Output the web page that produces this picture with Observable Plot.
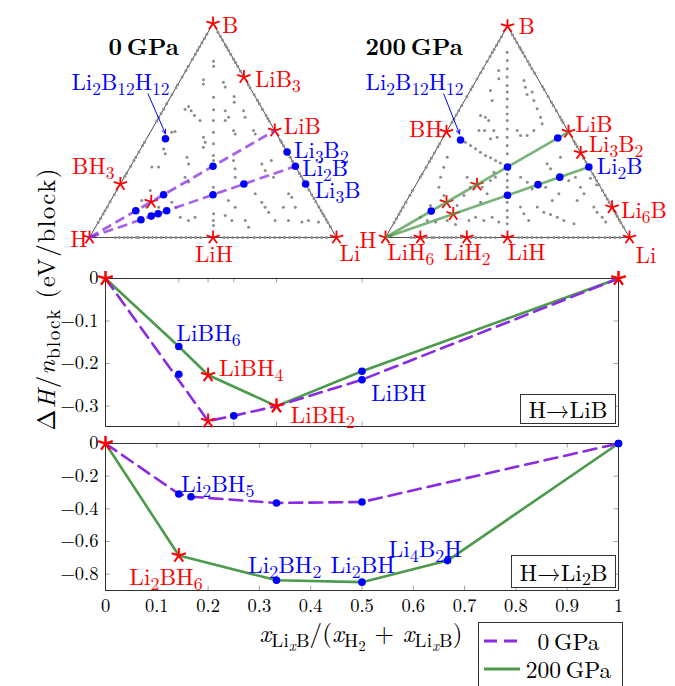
<!DOCTYPE html>
<html>
<head>
<meta charset="utf-8">
<script src="https://cdn.jsdelivr.net/npm/d3@7"></script>
<script src="https://cdn.jsdelivr.net/npm/@observablehq/plot@0.6"></script>
<style>
  html, body { margin: 0; padding: 0; background: #fff; }
  #root { position: relative; width: 675px; height: 686px; overflow: hidden; font-family: "Latin Modern Roman", "Liberation Serif", serif; }
  #root > svg { position: absolute; left: 0; overflow: visible; }
  .box { position: absolute; box-sizing: border-box; border: 1px solid #333; background: #fff; font-size: 23.5px; text-align: center; color: #000; }
  .box sub { font-size: 76%; vertical-align: -0.22em; line-height: 0; }
  .legend { position: absolute; box-sizing: border-box; border: 1px solid #333; background: #fff; }
  .legend .row { position: absolute; left: 0; width: 100%; height: 28px; font-size: 23.5px; line-height: 28px; }
  .legend .row svg { position: absolute; left: 5px; top: 0; }
  .legend .row span { position: absolute; left: 42px; width: 95px; text-align: center; }
</style>
</head>
<body>
<div id="root"></div>
<script>
// ================= DATA =================
// Ternary compositions: atomic fractions of Li and B (H = 1 - Li - B)
const triangle = [{Li: 0, B: 0}, {Li: 1, B: 0}, {Li: 0, B: 1}, {Li: 0, B: 0}];

// binary compositions sampled along the edges
const edgeHLi = [0.105, 0.12, 0.14, 0.155, 0.17, 0.19, 0.2, 0.22, 0.24, 0.255, 0.27, 0.29, 0.31, 0.33, 0.35, 0.37, 0.39, 0.41, 0.43, 0.45, 0.545, 0.56, 0.58, 0.6, 0.62, 0.64, 0.667, 0.69, 0.71, 0.73, 0.75, 0.77, 0.79, 0.81, 0.83, 0.85, 0.875, 0.9, 0.92, 0.94, 0.96];
const edgeHB = [0.07, 0.09, 0.11, 0.125, 0.143, 0.167, 0.2, 0.222, 0.286, 0.3, 0.333, 0.36, 0.375, 0.4, 0.43, 0.444, 0.545, 0.56, 0.58, 0.6, 0.625, 0.667, 0.7, 0.714, 0.75, 0.78, 0.8, 0.833, 0.857, 0.875, 0.89, 0.91, 0.93, 0.95];
const edgeBLi = [0.04, 0.06, 0.077, 0.1, 0.111, 0.125, 0.143, 0.167, 0.182, 0.2, 0.222, 0.286, 0.3, 0.333, 0.36, 0.375, 0.4, 0.43, 0.444, 0.455, 0.545, 0.556, 0.571, 0.625, 0.643, 0.7, 0.714, 0.73, 0.75, 0.778, 0.8, 0.818, 0.833, 0.857, 0.875, 0.889, 0.9, 0.917, 0.93, 0.95];

// interior sampled compositions [Li, B], 0 GPa
const gray0 = [[0.090,0.824],[0.102,0.801],[0.093,0.737],[0.102,0.718],[0.174,0.656],[0.204,0.597],[0.228,0.547],[0.256,0.492],[0.283,0.438],[0.310,0.383],[0.322,0.360],[0.384,0.235],[0.447,0.111],[0.462,0.079],[0.474,0.056],[0.179,0.726],[0.198,0.703],[0.256,0.659],[0.270,0.632],[0.095,0.612],[0.087,0.600],[0.115,0.593],[0.140,0.570],[0.174,0.547],[0.099,0.495],[0.087,0.492],[0.227,0.469],[0.246,0.445],[0.250,0.422],[0.253,0.593],[0.282,0.562],[0.327,0.593],[0.349,0.562],[0.414,0.500],[0.429,0.484],[0.333,0.500],[0.348,0.484],[0.276,0.547],[0.088,0.329],[0.115,0.329],[0.111,0.391],[0.093,0.414],[0.207,0.375],[0.229,0.344],[0.246,0.282],[0.272,0.259],[0.403,0.360],[0.429,0.321],[0.449,0.282],[0.526,0.344],[0.555,0.313],[0.556,0.360],[0.604,0.282],[0.704,0.204],[0.725,0.188],[0.615,0.165],[0.640,0.142],[0.666,0.118],[0.714,0.142],[0.766,0.079],[0.847,0.079],[0.891,0.072],[0.251,0.165],[0.279,0.142],[0.320,0.095],[0.361,0.079],[0.380,0.095],[0.476,0.173],[0.519,0.142],[0.591,0.079],[0.620,0.048],[0.125,0.173],[0.161,0.142],[0.136,0.220],[0.209,0.142],[0.537,0.079],[0.498,0.103],[0.712,0.079],[0.824,0.072],[0.569,0.204],[0.762,0.142]];

// interior sampled compositions [Li, B], 200 GPa
const gray200 = [[0.060,0.877],[0.080,0.838],[0.100,0.798],[0.119,0.759],[0.139,0.719],[0.155,0.688],[0.171,0.656],[0.190,0.617],[0.206,0.585],[0.222,0.554],[0.242,0.514],[0.261,0.475],[0.281,0.435],[0.301,0.396],[0.348,0.301],[0.364,0.270],[0.380,0.238],[0.415,0.167],[0.435,0.128],[0.451,0.096],[0.466,0.065],[0.069,0.790],[0.089,0.751],[0.196,0.743],[0.218,0.711],[0.242,0.677],[0.257,0.688],[0.284,0.648],[0.317,0.609],[0.351,0.569],[0.373,0.538],[0.082,0.696],[0.113,0.648],[0.101,0.577],[0.125,0.569],[0.146,0.554],[0.130,0.506],[0.153,0.506],[0.191,0.506],[0.220,0.475],[0.197,0.467],[0.287,0.506],[0.312,0.483],[0.339,0.483],[0.355,0.506],[0.102,0.451],[0.131,0.435],[0.159,0.420],[0.187,0.404],[0.216,0.388],[0.242,0.377],[0.269,0.364],[0.295,0.352],[0.290,0.309],[0.308,0.285],[0.295,0.270],[0.063,0.380],[0.072,0.333],[0.083,0.285],[0.100,0.238],[0.140,0.199],[0.192,0.285],[0.229,0.238],[0.222,0.199],[0.277,0.238],[0.313,0.207],[0.306,0.167],[0.411,0.285],[0.450,0.262],[0.486,0.230],[0.488,0.349],[0.514,0.325],[0.527,0.380],[0.616,0.270],[0.636,0.285],[0.680,0.238],[0.710,0.207],[0.698,0.175],[0.550,0.144],[0.589,0.120],[0.622,0.109],[0.656,0.096],[0.691,0.080],[0.740,0.065],[0.481,0.144],[0.511,0.112],[0.547,0.080],[0.782,0.144],[0.807,0.120],[0.840,0.096],[0.866,0.073],[0.095,0.096],[0.131,0.080],[0.169,0.073],[0.213,0.080],[0.256,0.062],[0.302,0.080],[0.321,0.096],[0.363,0.080],[0.389,0.096],[0.428,0.073],[0.537,0.238],[0.596,0.175],[0.607,0.207],[0.700,0.280],[0.740,0.250],[0.218,0.151],[0.109,0.151]];

// stable (red star) and highlighted (blue) phases, 0 GPa
const stable0 = [
  {name: "H", Li: 0, B: 0}, {name: "Li", Li: 1, B: 0}, {name: "B", Li: 0, B: 1},
  {name: "LiH", Li: 0.5, B: 0}, {name: "BH3", Li: 0, B: 0.25}, {name: "LiB3", Li: 0.25, B: 0.75},
  {name: "LiB", Li: 0.5, B: 0.5}, {name: "LiBH4", Li: 0.1667, B: 0.1667}
];
const blue0 = [
  {name: "Li2B12H12", Li: 0.0769, B: 0.4615}, {name: "Li3B2", Li: 0.6, B: 0.4},
  {name: "Li2B", Li: 0.6667, B: 0.3333}, {name: "Li3B", Li: 0.75, B: 0.25},
  {name: "LiBH6", Li: 0.125, B: 0.125}, {name: "LiBH3", Li: 0.2, B: 0.2}, {name: "LiBH", Li: 0.3333, B: 0.3333},
  {name: "Li2BH9", Li: 0.1667, B: 0.0833}, {name: "Li2BH7", Li: 0.2, B: 0.1}, {name: "Li2BH6", Li: 0.2222, B: 0.1111},
  {name: "Li2BH5", Li: 0.25, B: 0.125}, {name: "Li2BH2", Li: 0.4, B: 0.2}, {name: "Li2BH", Li: 0.5, B: 0.25}
];
// 200 GPa
const stable200 = [
  {name: "H", Li: 0, B: 0}, {name: "Li", Li: 1, B: 0}, {name: "B", Li: 0, B: 1},
  {name: "BH", Li: 0, B: 0.5}, {name: "LiB", Li: 0.5, B: 0.5}, {name: "Li3B2", Li: 0.6, B: 0.4},
  {name: "Li6B", Li: 0.8571, B: 0.1429}, {name: "LiH6", Li: 0.1429, B: 0}, {name: "LiH2", Li: 0.3333, B: 0},
  {name: "LiH", Li: 0.5, B: 0}, {name: "LiBH4", Li: 0.1667, B: 0.1667}, {name: "LiBH2", Li: 0.25, B: 0.25},
  {name: "Li2BH6", Li: 0.2222, B: 0.1111}
];
const blue200 = [
  {name: "Li2B12H12", Li: 0.0769, B: 0.4615}, {name: "LiBH6", Li: 0.125, B: 0.125},
  {name: "LiBH", Li: 0.3333, B: 0.3333}, {name: "Li8B8H", Li: 0.4706, B: 0.4706},
  {name: "Li2BH2", Li: 0.4, B: 0.2}, {name: "Li2BH", Li: 0.5, B: 0.25},
  {name: "Li4B2H", Li: 0.5714, B: 0.2857}, {name: "Li2B", Li: 0.6667, B: 0.3333}
];
const tieTargets = ["LiB", "Li2B"];   // sections drawn from H

const ternLabels0 = [
  {name: "B", text: "B"}, {name: "LiB3", text: "LiB_3"}, {name: "LiB", text: "LiB"},
  {name: "LiH", text: "LiH"}, {name: "Li", text: "Li"}, {name: "H", text: "H"}, {name: "BH3", text: "BH_3"},
  {name: "Li3B2", text: "Li_3B_2"}, {name: "Li2B", text: "Li_2B"}, {name: "Li3B", text: "Li_3B"},
  {name: "Li2B12H12", text: "Li_2B_{12}H_{12}"}
];
const ternLabels200 = [
  {name: "B", text: "B"}, {name: "BH", text: "BH"}, {name: "LiB", text: "LiB"}, {name: "Li3B2", text: "Li_3B_2"},
  {name: "Li2B", text: "Li_2B"}, {name: "Li6B", text: "Li_6B"}, {name: "H", text: "H"}, {name: "LiH6", text: "LiH_6"},
  {name: "LiH2", text: "LiH_2"}, {name: "LiH", text: "LiH"}, {name: "Li", text: "Li"},
  {name: "Li2B12H12", text: "Li_2B_{12}H_{12}"}
];

// H -> LiB section (x = fraction of LiB blocks), formation enthalpy eV/block
const midNames   = ["H", "LiBH6", "LiBH4", "LiBH3", "LiBH2", "LiBH", "LiB"];
const midX       = [0, 0.1429, 0.2, 0.25, 0.3333, 0.5, 1];
const midDH0     = [0, -0.225, -0.335, -0.323, -0.300, -0.238, 0];
const midDH200   = [0, -0.160, -0.227, null, -0.300, -0.218, 0];
const midPath0   = ["H", "LiBH4", "LiBH3", "LiBH2", "LiBH", "LiB"];
const midPath200 = ["H", "LiBH6", "LiBH4", "LiBH2", "LiBH", "LiB"];
const midStable0   = ["H", "LiBH4", "LiBH2", "LiB"];
const midStable200 = ["H", "LiBH4", "LiBH2", "LiB"];
const midYTicks = [0, -0.1, -0.2, -0.3];
const midXMarks = [0.1429, 0.2, 0.25, 0.3333, 0.5];
const midLabels = [
  {set: "200", name: "LiBH6", text: "LiBH_6"}, {set: "200", name: "LiBH4", text: "LiBH_4"},
  {set: "200", name: "LiBH2", text: "LiBH_2"}, {set: "0", name: "LiBH", text: "LiBH"}
];

// H -> Li2B section
const botNames   = ["H", "Li2BH6", "Li2BH5", "Li2BH2", "Li2BH", "Li4B2H", "Li2B"];
const botX       = [0, 0.1429, 0.1667, 0.3333, 0.5, 0.6667, 1];
const botDH0     = [0, -0.309, -0.326, -0.364, -0.358, null, 0];
const botDH200   = [0, -0.686, null, -0.837, -0.849, -0.717, 0];
const botPath0   = ["H", "Li2BH6", "Li2BH5", "Li2BH2", "Li2BH", "Li2B"];
const botPath200 = ["H", "Li2BH6", "Li2BH2", "Li2BH", "Li4B2H", "Li2B"];
const botStable0   = ["H"];
const botStable200 = ["H", "Li2BH6"];
const botYTicks = [0, -0.2, -0.4, -0.6, -0.8];
const xTicks = [0, 0.1, 0.2, 0.3, 0.4, 0.5, 0.6, 0.7, 0.8, 0.9, 1];
const botLabels = [
  {set: "0", name: "Li2BH5", text: "Li_2BH_5"}, {set: "200", name: "Li2BH6", text: "Li_2BH_6"},
  {set: "200", name: "Li2BH2", text: "Li_2BH_2"}, {set: "200", name: "Li2BH", text: "Li_2BH"},
  {set: "200", name: "Li4B2H", text: "Li_4B_2H"}
];

const xTitle = "$x$_{Li_{$x$}B}/($x$_{H_2} + $x$_{Li_{$x$}B})";
const yTitle = "Δ$H$/$n$_{block} (eV/block)";
const titles = ["0\u2009GPa", "200\u2009GPa"];

// ================= STYLE / LAYOUT =================
const W = 675;
const RED = "#ff0000", BLUE = "#0000ff", PURPLE = "#8a2be2", GREEN = "#4c9a4c", GRAY = "#8c8c8c";
const FONT = "'Latin Modern Roman', 'Liberation Serif', serif";
const SUB = 0.76;     // subscript size ratio
const fmt = d3.format("~g");
const SQ3 = Math.sqrt(3) / 2;
const tx = d => d.Li + d.B / 2;
const ty = d => d.B * SQ3;

const place0 = {
  B: [9, 2, "start"], LiB3: [11, 3, "start"], LiB: [9, -4, "start"], LiH: [1, 17, "middle"],
  Li: [3, 16, "start"], H: [-2, 2, "end"], BH3: [-6, -17, "end"],
  Li3B2: [7, -1, "start"], Li2B: [7, 2, "start"], Li3B: [9, 7, "start"], Li2B12H12: [-94, -56, "start"]
};
const place200 = {
  B: [11, 0, "start"], BH: [-4, -2, "end"], LiB: [7, -7, "start"], Li3B2: [8, -8, "start"],
  Li2B: [8, 0, "start"], Li6B: [9, 3, "start"], H: [-9, 3, "end"], LiH6: [-33, 15, "start"],
  LiH2: [-23, 15, "start"], LiH: [0, 15, "start"], Li: [6, 18, "start"], Li2B12H12: [-95, -57, "start"]
};
const midPlace = {LiBH6: [-2.5, -13], LiBH4: [11, -6.5], LiBH2: [14, 9], LiBH: [9, 13.5]};
const botPlace = {Li2BH5: [-10, -12], Li2BH6: [-49.5, 22], Li2BH2: [-28.5, -14.7], Li2BH: [-31.5, -16.6], Li4B2H: [-59, -11.6]};

// 5-armed asterisk (pgfplots "star")
const star5 = {
  draw(context, size) {
    const r = Math.sqrt(size / Math.PI);
    for (let k = 0; k < 5; k++) {
      const a = -Math.PI / 2 + k * 2 * Math.PI / 5;
      context.moveTo(0, 0);
      context.lineTo(r * Math.cos(a), r * Math.sin(a));
    }
  }
};

// rich text: _x or _{..} subscripts, $..$ italic
function parseRich(s) {
  let i = 0;
  function group() {
    const out = []; let buf = "", it = false;
    const flush = () => { if (buf) out.push({t: buf, it}); buf = ""; };
    while (i < s.length) {
      const c = s[i];
      if (c === "}") { i++; break; }
      if (c === "$") { flush(); it = !it; i++; continue; }
      if (c === "_") {
        flush(); i++;
        if (s[i] === "{") { i++; out.push({sub: group()}); }
        else { out.push({sub: [{t: s[i], it}]}); i++; }
        continue;
      }
      buf += c; i++;
    }
    flush();
    return out;
  }
  return group();
}
function richify(svg, lengths = {}) {
  const NS = "http://www.w3.org/2000/svg";
  svg.querySelectorAll("text").forEach(t => {
    const s = t.textContent;
    if (!/[_$]/.test(s)) return;
    const fs = parseFloat(getComputedStyle(t).fontSize) || 24;
    const nodes = parseRich(s);
    while (t.firstChild) t.removeChild(t.firstChild);
    let cur = 0;
    (function emit(list, size, off) {
      for (const n of list) {
        if (n.sub) { emit(n.sub, size * SUB, off + size * 0.22); continue; }
        const ts = document.createElementNS(NS, "tspan");
        ts.setAttribute("font-size", size.toFixed(2));
        if (n.it) ts.setAttribute("font-style", "italic");
        if (Math.abs(off - cur) > 1e-6) { ts.setAttribute("dy", (off - cur).toFixed(2)); cur = off; }
        ts.textContent = n.t;
        t.appendChild(ts);
      }
    })(nodes, fs, 0);
    if (lengths[s]) { t.setAttribute("textLength", lengths[s]); t.setAttribute("lengthAdjust", "spacing"); }
  });
}

const root = document.getElementById("root");
function mount(svg, top, lengths) {
  svg.style.top = top + "px";
  root.appendChild(svg);
  richify(svg, lengths);
}

// ================= TERNARY DIAGRAMS =================
function ternaryPlot(t) {
  const all = t.stable.concat(t.blue);
  const find = n => all.find(d => d.name === n);
  const isStable = n => t.stable.some(d => d.name === n);
  const edgeDots = [
    ...edgeHLi.map(v => ({Li: v, B: 0})),
    ...edgeHB.map(v => ({Li: 0, B: v})),
    ...edgeBLi.map(v => ({Li: v, B: 1 - v}))
  ];
  const grayDots = t.gray.map(([Li, B]) => ({Li, B}));
  const origin = find("H");
  const s = t.side;
  const a = t.arrow; // pixel offsets from the point: [startRight, startDown, endRight, endDown]
  const marks = [
    Plot.line(triangle, {x: tx, y: ty, stroke: "#000", strokeWidth: 0.7}),
    Plot.dot(edgeDots.concat(grayDots), {x: tx, y: ty, r: 1.5, fill: GRAY}),
    Plot.dot(t.stable, {x: tx, y: ty, r: 7, symbol: star5, fill: "none", stroke: RED, strokeWidth: 1.8}),
    Plot.link(tieTargets.map(find), {
      x1: () => tx(origin), y1: () => ty(origin), x2: tx, y2: ty,
      stroke: t.color, strokeWidth: 2.6, strokeOpacity: 0.75, strokeDasharray: t.dash
    }),
    Plot.dot(t.blue, {x: tx, y: ty, r: 3.8, fill: BLUE}),
    Plot.arrow([find("Li2B12H12")], {
      x1: d => tx(d) + a[0] / s, y1: d => ty(d) - a[1] / s,
      x2: d => tx(d) + a[2] / s, y2: d => ty(d) - a[3] / s,
      stroke: BLUE, strokeWidth: 1, headLength: 7, headAngle: 50
    }),
    ...t.labels.map(l => {
      const [dx, dy, anchor] = t.place[l.name];
      return Plot.text([find(l.name)], {
        x: tx, y: ty, text: () => l.text, dx, dy, textAnchor: anchor,
        fill: isStable(l.name) ? RED : BLUE, fontSize: 23
      });
    }),
    Plot.text([t.title], {frameAnchor: "top-left", dx: t.titlePos[0], dy: t.titlePos[1],
      textAnchor: "start", fontWeight: "bold", fontSize: 23.5, fill: "#000"})
  ];
  return Plot.plot({
    width: W, height: 265,
    marginLeft: t.left, marginRight: W - t.left - s,
    marginTop: 237 - s * SQ3, marginBottom: 28,
    x: {domain: [0, 1], axis: null},
    y: {domain: [0, SQ3], axis: null},
    style: {fontFamily: FONT, background: "transparent", overflow: "visible"},
    marks
  });
}

mount(ternaryPlot({
  side: 247, left: 89, gray: gray0, stable: stable0, blue: blue0, color: PURPLE, dash: "10,5",
  labels: ternLabels0, place: place0, title: titles[0], titlePos: [19, 15], arrow: [-17.5, -45, 0, -5]
}), 0);
mount(ternaryPlot({
  side: 244, left: 385, gray: gray200, stable: stable200, blue: blue200, color: GREEN, dash: undefined,
  labels: ternLabels200, place: place200, title: titles[1], titlePos: [-20, 12.3], arrow: [-16.8, -46, -1, -6]
}), 0);

// ================= ENTHALPY PANELS =================
const ML = 105, MR = W - 618;
function series(names, xs, ys) {
  return names.map((name, i) => ({name, x: xs[i], dH: ys[i]})).filter(d => d.dH != null);
}
function panelPlot(p) {
  const ih = p.height - p.mt - p.mb, iw = W - ML - MR;
  const d0 = series(p.names, p.xs, p.dh0), d200 = series(p.names, p.xs, p.dh200);
  const pick = (data, names) => names.map(n => data.find(d => d.name === n));
  const blue = [...d0.filter(d => !p.stable0.includes(d.name)), ...d200.filter(d => !p.stable200.includes(d.name))];
  const stars = [...pick(d0, p.stable0), ...pick(d200, p.stable200)];
  const sets = {"0": d0, "200": d200};
  const stableSets = {"0": p.stable0, "200": p.stable200};
  const tickStyle = {stroke: "#8a8a8a", strokeWidth: 0.8};
  const marks = [
    Plot.ruleX(p.xMarks, {x: d => d, insetTop: ih - 4.5, ...tickStyle}),
    Plot.ruleX(p.xMarks, {x: d => d, insetBottom: ih - 4.5, ...tickStyle}),
    Plot.ruleY(p.yTicks.filter(v => v !== 0), {y: d => d, insetLeft: iw - 4.5, ...tickStyle}),
    Plot.ruleY(p.yTicks.filter(v => v !== 0), {y: d => d, insetRight: iw - 4.5, ...tickStyle}),
    Plot.frame({stroke: "#000", strokeWidth: 0.8}),
    Plot.axisY(p.yTicks, {anchor: "left", tickSize: 0, tickPadding: 7, tickFormat: fmt, label: null, fontSize: 18.5}),
    Plot.line(pick(d200, p.path200), {x: "x", y: "dH", stroke: GREEN, strokeWidth: 2.6}),
    Plot.line(pick(d0, p.path0), {x: "x", y: "dH", stroke: PURPLE, strokeWidth: 2.6, strokeDasharray: "13,7"}),
    Plot.dot(blue, {x: "x", y: "dH", r: 3.8, fill: BLUE}),
    Plot.dot(stars, {x: "x", y: "dH", r: 7.5, symbol: star5, fill: "none", stroke: RED, strokeWidth: 2}),
    ...p.labels.map(l => {
      const [dx, dy] = p.place[l.name];
      return Plot.text([sets[l.set].find(d => d.name === l.name)], {
        x: "x", y: "dH", text: () => l.text, dx, dy, textAnchor: "start", fontSize: 23.5,
        fill: stableSets[l.set].includes(l.name) ? RED : BLUE
      });
    }),
    ...(p.extra || [])
  ];
  return Plot.plot({
    width: W, height: p.height, marginLeft: ML, marginRight: MR, marginTop: p.mt, marginBottom: p.mb,
    x: {domain: [0, 1], axis: null},
    y: {domain: p.domain},
    style: {fontFamily: FONT, fontSize: "18.5px", background: "transparent", overflow: "visible", color: "#000"},
    marks
  });
}

mount(panelPlot({
  height: 190, mt: 28, mb: 14, domain: [-0.348, 0],
  names: midNames, xs: midX, dh0: midDH0, dh200: midDH200,
  path0: midPath0, path200: midPath200, stable0: midStable0, stable200: midStable200,
  yTicks: midYTicks, xMarks: midXMarks, labels: midLabels, place: midPlace
}), 250);

const lengths = {};
lengths[yTitle] = 262;
lengths[xTitle] = 203;
mount(panelPlot({
  height: 426, mt: 183, mb: 96, domain: [-0.9, 0],
  names: botNames, xs: botX, dh0: botDH0, dh200: botDH200,
  path0: botPath0, path200: botPath200, stable0: botStable0, stable200: botStable200,
  yTicks: botYTicks, xMarks: xTicks.slice(1, -1), labels: botLabels, place: botPlace,
  extra: [
    Plot.axisX(xTicks, {anchor: "bottom", tickSize: 0, tickPadding: 8, tickFormat: fmt, label: null, fontSize: 18.5}),
    Plot.text([xTitle], {frameAnchor: "bottom", dx: -1, dy: 51, fontSize: 25, fill: "#000"}),
    Plot.text([yTitle], {frameAnchor: "left", dx: -59, dy: -86.5, rotate: -90, fontSize: 25, fill: "#000"})
  ]
}), 260, lengths);

// ================= BOXES & LEGEND =================
function addBox(html, left, top, w, h) {
  const div = document.createElement("div");
  div.className = "box";
  Object.assign(div.style, {left: left + "px", top: top + "px", width: w + "px", height: h + "px", lineHeight: (h - 2) + "px"});
  div.innerHTML = html;
  root.appendChild(div);
}
addBox("H→LiB", 520, 394, 96, 30);
addBox("H→Li<sub>2</sub>B", 511, 555, 105, 33);

const legendItems = [
  {label: titles[0], color: PURPLE, dash: "13,7"},
  {label: titles[1], color: GREEN, dash: null}
];
const legend = document.createElement("div");
legend.className = "legend";
Object.assign(legend.style, {left: "478px", top: "622px", width: "145px", height: "90px"});
legendItems.forEach((it, i) => {
  const row = document.createElement("div");
  row.className = "row";
  row.style.top = (4 + i * 28) + "px";
  row.innerHTML = `<svg width="37" height="28"><line x1="0" x2="36" y1="14" y2="14" stroke="${it.color}" stroke-width="2.8" ${it.dash ? `stroke-dasharray="${it.dash}"` : ""}/></svg><span>${it.label}</span>`;
  legend.appendChild(row);
});
root.appendChild(legend);
</script>
</body>
</html>
